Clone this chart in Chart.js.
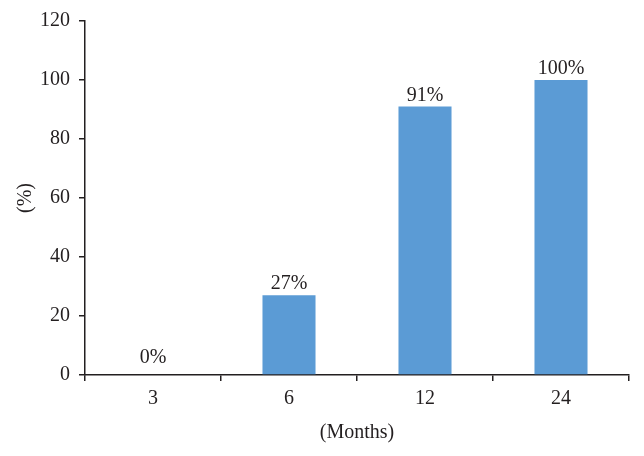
<!DOCTYPE html>
<html>
<head>
<meta charset="utf-8">
<script src="https://cdn.jsdelivr.net/npm/chart.js@4/dist/chart.umd.min.js"></script>
<style>
  html, body { margin: 0; padding: 0; background: #fff; }
  #wrap { width: 644px; height: 456px; }
</style>
</head>
<body>
<div id="wrap"><canvas id="grafica"></canvas></div>
<script>
// datos
const meses = ['3', '6', '12', '24'];
const valores = [0, 27, 91, 100];
const etiquetas = ['0%', '27%', '91%', '100%'];
const ticksY = [0, 20, 40, 60, 80, 100, 120];

const fuente = "'Liberation Serif', 'DejaVu Serif', serif";
const tinta = '#231f20';

// dibuja el porcentaje encima de cada barra
const etiquetasPlugin = {
  id: 'etiquetas',
  afterDatasetsDraw(chart) {
    const ctx = chart.ctx;
    const meta = chart.getDatasetMeta(0);
    ctx.save();
    ctx.font = '20px ' + fuente;
    ctx.fillStyle = tinta;
    ctx.textAlign = 'center';
    ctx.textBaseline = 'alphabetic';
    meta.data.forEach((bar, i) => {
      ctx.fillText(etiquetas[i], bar.x, bar.y - (valores[i] === 0 ? 12 : 6));
    });
    ctx.restore();
  }
};

new Chart(document.getElementById('grafica'), {
  type: 'bar',
  data: {
    labels: meses,
    datasets: [{
      data: valores,
      backgroundColor: '#5B9BD5',
      borderWidth: 0,
      categoryPercentage: 1,
      barPercentage: 0.39
    }]
  },
  options: {
    responsive: true,
    maintainAspectRatio: false,
    animation: false,
    layout: { padding: { top: 20, right: 15, bottom: 0, left: 0 } },
    plugins: { legend: { display: false }, tooltip: { enabled: false } },
    scales: {
      x: {
        grid: { drawOnChartArea: false, drawTicks: true, tickLength: 6, color: tinta, lineWidth: 1.5 },
        border: { color: tinta, width: 1.5 },
        ticks: { color: tinta, font: { family: fuente, size: 20 }, padding: 6 },
        title: { display: true, text: '(Months)', color: tinta, font: { family: fuente, size: 20 }, padding: { top: 4, bottom: 11 } },
        afterFit(scale) { scale.height = 81; }
      },
      y: {
        min: 0,
        max: 120,
        afterBuildTicks(scale) { scale.ticks = ticksY.map(v => ({ value: v })); },
        grid: { drawOnChartArea: false, drawTicks: true, tickLength: 6, color: tinta, lineWidth: 1.5 },
        border: { color: tinta, width: 1.5 },
        ticks: { color: tinta, font: { family: fuente, size: 20 }, padding: 9 },
        title: { display: true, text: '(%)', color: tinta, font: { family: fuente, size: 20 }, padding: { top: 14, bottom: 0 } },
        afterFit(scale) { scale.width = 85; }
      }
    }
  },
  plugins: [etiquetasPlugin]
});
</script>
</body>
</html>
